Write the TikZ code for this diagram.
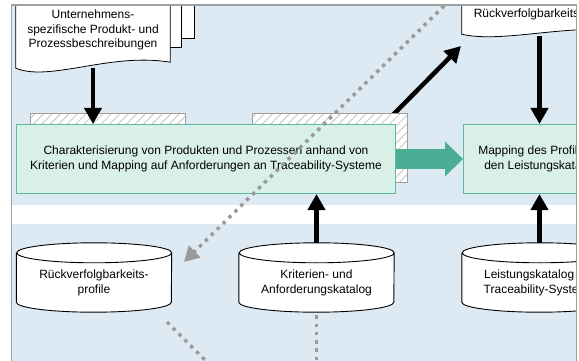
\documentclass[tikz,border=0pt]{standalone}
\usepackage{fontspec}
\setmainfont{Liberation Sans}
\usetikzlibrary{arrows.meta, positioning, backgrounds, patterns.meta}

\definecolor{bandblue}{HTML}{DDE9F3}
\definecolor{boxmint}{HTML}{D9F0E8}
\definecolor{boxline}{HTML}{5EBA9F}
\definecolor{flowgreen}{HTML}{4BAE94}
\definecolor{dotgray}{HTML}{9A9A9A}
\definecolor{framegray}{HTML}{A0A0A0}

\tikzset{
  txt/.style={align=center, font=\fontsize{12}{14.8}\selectfont, inner sep=0pt},
  procbox/.style={txt, draw=boxline, line width=1pt, fill=boxmint,
    minimum height=69pt, font=\fontsize{12}{14.5}\selectfont},
  hatchbox/.style={draw=gray!75, line width=0.8pt, preaction={fill=white},
    pattern={Lines[angle=45, distance=6pt, line width=1pt]}, pattern color=gray!40,
    minimum width=155pt, minimum height=69pt, inner sep=0pt},
  sheet/.style={draw=black, line width=0.8pt, fill=white},
  dbshape/.style={draw=black, line width=0.9pt, fill=white},
  blackarrow/.style={line width=4.5pt, -{Triangle[length=16pt, width=17pt]}},
  flowarrow/.style={flowgreen, line width=20pt, -{Triangle[length=18pt, width=34pt]}},
  dotline/.style={dotgray, line width=3.5pt, dash pattern=on 3.5pt off 4.8pt},
  dotarrow/.style={dotline, -{Triangle[length=15pt, width=16pt]}}
}

\begin{document}
\begin{tikzpicture}[x=1pt, y=-1pt]
  \useasboundingbox (0,0) rectangle (579,361);

  % bands
  \begin{scope}[on background layer]
    \fill[bandblue] (12,5) rectangle (576,205);
    \fill[bandblue] (12,224) rectangle (576,361);
  \end{scope}

  % documents
  \node[txt, minimum width=154pt, minimum height=76pt] (docL) at (93,30)
    {Unternehmens-\\spezifische Produkt- und\\Prozessbeschreibungen};
  \node[txt, minimum width=155pt, minimum height=40pt] (docR) at (539.5,14)
    {Rückverfolgbarkeitsprofil};

  % databases
  \node[txt, minimum width=155pt, minimum height=59pt] (cylL) at (94,282.5)
    {Rückverfolgbarkeits-\\profile};
  \node[txt, minimum width=155pt, minimum height=59pt] (cylM) at (316.5,282.5)
    {Kriterien- und\\Anforderungskatalog};
  \node[txt, minimum width=155pt, minimum height=59pt] (cylR) at (539.5,282.5)
    {Leistungskatalog der\\Traceability-Systeme};

  \begin{scope}[on background layer]
    \draw[sheet] ([xshift=24pt]docL.north west) rectangle ++(155,47);
    \draw[sheet] ([xshift=12pt]docL.north west) rectangle ++(154,56);
    \draw[sheet] (docL.north west) -- (docL.south west)
      .. controls +(34,14) and +(-60,-10) .. ([yshift=6pt]docL.south east)
      -- (docL.north east);
    \draw[sheet] (docR.north west) -- (docR.south west)
      .. controls +(38,9) and +(-55,-5) .. ([yshift=4pt]docR.south east)
      -- (docR.north east);
    \foreach \db in {cylL,cylM,cylR}
      \draw[dbshape] (\db.north west) -- ([yshift=10pt]\db.south west)
        arc[start angle=180, end angle=360, x radius=77.5pt, y radius=10pt]
        -- (\db.north east)
        arc[start angle=0, end angle=360, x radius=77.5pt, y radius=10pt];
  \end{scope}

  % feedback arrow under the hatched boxes
  \coordinate (fbStart) at (384,124);
  \coordinate (fbEnd) at (461,46);
  \draw[blackarrow] (fbStart) -- (fbEnd);

  % process boxes
  \node[hatchbox, anchor=north west] (hatchL) at (30,113) {};
  \node[hatchbox, anchor=north west] (hatchR) at (252,113) {};
  \node[procbox, minimum width=379pt, anchor=north west] (mainL) at (16,124)
    {Charakterisierung von Produkten und Prozessen anhand von\\
     Kriterien und Mapping auf Anforderungen an Traceability-Systeme};
  \node[procbox, minimum width=155pt, right=67pt of mainL] (mainR)
    {Mapping des Profils auf\\den Leistungskatalog};

  % connectors
  \draw[flowarrow] (mainL.east) -- (mainR.west);
  \draw[blackarrow] (docL.south) -- (docL.south |- mainL.north);
  \draw[blackarrow] ([yshift=-2pt]docR.south) -- (docR.south |- mainR.north);
  \draw[blackarrow] ([yshift=10pt]cylM.north) -- (cylM.north |- mainL.south);
  \draw[blackarrow] ([yshift=10pt]cylR.north) -- (cylR.north |- mainR.south);

  % dotted links
  \coordinate (dotTop) at (450,0);
  \coordinate (dotTip) at (184,262);
  \coordinate (dotA) at (167,322);
  \coordinate (dotB) at (215,370);
  \draw[dotarrow] (dotTop) -- (dotTip);
  \draw[dotline] (dotA) -- (dotB);
  \draw[dotline] ([yshift=-3pt]cylM.south) -- ++(0,60);

  % frame
  \fill[white] (0,0) rectangle (579,4.3);
  \fill[white] (0,0) rectangle (10.8,361);
  \fill[white] (577.2,0) rectangle (579,361);
  \draw[framegray, line width=1.3pt] (11.5,361) -- (11.5,5) -- (576.5,5) -- (576.5,361);
\end{tikzpicture}
\end{document}
